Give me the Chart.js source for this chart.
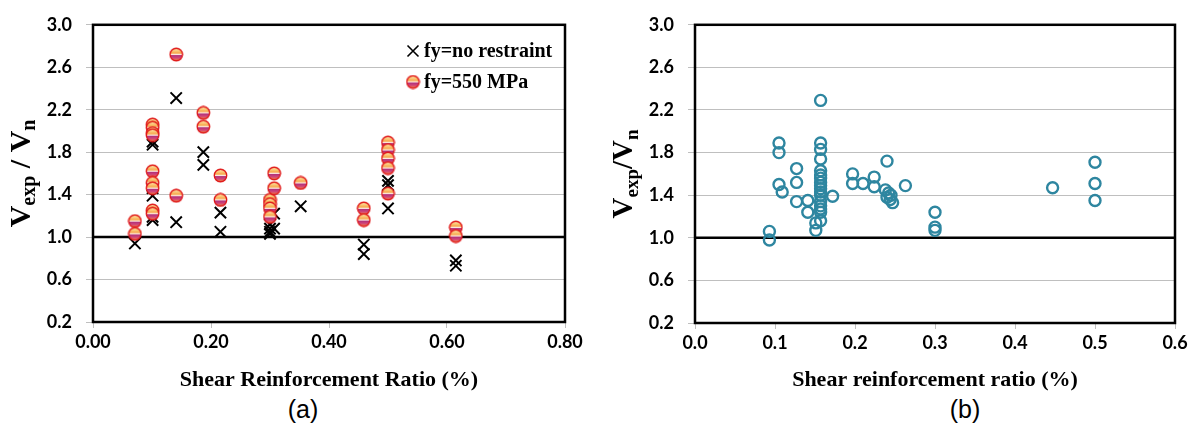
<!DOCTYPE html>
<html>
<head>
<meta charset="utf-8">
<script src="https://cdn.jsdelivr.net/npm/chart.js@4"></script>
<style>
  body { margin: 0; background: #fff; width: 1197px; height: 432px; position: relative; overflow: hidden; }
  canvas { position: absolute; top: 0; }
  #chartA { left: 0; }
  #chartB { left: 600px; }
  .tag { position: absolute; top: 395px; font-family: "Liberation Sans", Arial, sans-serif; font-size: 25px; transform: translateX(-50%); }
</style>
</head>
<body>
<canvas id="chartA" width="600" height="394"></canvas>
<canvas id="chartB" width="597" height="394"></canvas>
<div class="tag" style="left:303px">(a)</div>
<div class="tag" style="left:965px">(b)</div>
<script>
// panel (a) - fy = no restraint (crosses)
const noRestraintRatio = [0.071, 0.101, 0.101, 0.101, 0.101, 0.101, 0.101, 0.141, 0.141, 0.187, 0.187,
  0.216, 0.216, 0.300, 0.300, 0.300, 0.300, 0.307, 0.307, 0.352, 0.459, 0.459, 0.500, 0.500, 0.500, 0.615, 0.615];
const noRestraintV = [0.94, 1.90, 1.87, 1.46, 1.39, 1.19, 1.16, 2.31, 1.14, 1.80, 1.68,
  1.23, 1.05, 1.12, 1.08, 1.05, 1.03, 1.22, 1.08, 1.29, 0.93, 0.84, 1.53, 1.49, 1.27, 0.78, 0.73];

// panel (a) - fy = 550 MPa (balls)
const fy550Ratio = [0.071, 0.071, 0.101, 0.101, 0.101, 0.101, 0.101, 0.101, 0.101, 0.101, 0.101,
  0.141, 0.141, 0.187, 0.187, 0.216, 0.216, 0.300, 0.300, 0.300, 0.300, 0.307, 0.307, 0.352,
  0.459, 0.459, 0.500, 0.500, 0.500, 0.500, 0.500, 0.615, 0.615];
const fy550V = [1.15, 1.03, 2.06, 2.03, 1.98, 1.96, 1.62, 1.51, 1.46, 1.25, 1.22,
  2.72, 1.39, 2.17, 2.04, 1.58, 1.35, 1.35, 1.31, 1.27, 1.19, 1.60, 1.46, 1.51,
  1.27, 1.16, 1.89, 1.82, 1.74, 1.65, 1.41, 1.09, 1.01];

// panel (b)
const ratioB = [0.093, 0.093, 0.105, 0.105, 0.105, 0.109, 0.127, 0.127, 0.127, 0.141, 0.141, 0.151, 0.151,
  0.157, 0.157, 0.157, 0.157, 0.157, 0.157, 0.157, 0.157, 0.157, 0.157, 0.157, 0.157, 0.157, 0.157, 0.157, 0.157, 0.157,
  0.172, 0.197, 0.197, 0.210, 0.224, 0.224, 0.240, 0.238, 0.242, 0.245, 0.240, 0.244, 0.247,
  0.263, 0.300, 0.300, 0.300, 0.447, 0.500, 0.500, 0.500];
const vB = [1.06, 0.98, 1.89, 1.80, 1.50, 1.43, 1.65, 1.52, 1.34, 1.35, 1.24, 1.14, 1.07,
  2.29, 1.89, 1.83, 1.74, 1.63, 1.59, 1.56, 1.52, 1.49, 1.46, 1.43, 1.40, 1.34, 1.30, 1.27, 1.24, 1.16,
  1.39, 1.60, 1.51, 1.51, 1.57, 1.48, 1.72, 1.45, 1.42, 1.40, 1.38, 1.36, 1.33,
  1.49, 1.24, 1.10, 1.07, 1.47, 1.71, 1.51, 1.35];

const yTicks = [0.2, 0.6, 1.0, 1.4, 1.8, 2.2, 2.6, 3.0];
const xTicksA = [0, 0.2, 0.4, 0.6, 0.8];
const xTicksB = [0, 0.1, 0.2, 0.3, 0.4, 0.5, 0.6];
const refLevel = 1.0;

const pts = (xs, ys) => xs.map((x, i) => ({ x: x, y: ys[i] }));

// orange/red ball marker used by the fy=550 series
function makeBall() {
  const c = document.createElement('canvas');
  c.width = 15; c.height = 15;
  const g = c.getContext('2d');
  const grad = g.createLinearGradient(0, 1.5, 0, 13.5);
  grad.addColorStop(0, '#fff0b0');
  grad.addColorStop(0.38, '#f7a648');
  grad.addColorStop(0.5, '#fde9e2');
  grad.addColorStop(0.58, '#b3327a');
  grad.addColorStop(0.8, '#d4487a');
  grad.addColorStop(1, '#f28a38');
  g.beginPath();
  g.arc(7.5, 7.5, 6.2, 0, Math.PI * 2);
  g.fillStyle = grad;
  g.fill();
  g.lineWidth = 1.4;
  g.strokeStyle = '#e01818';
  g.stroke();
  return c;
}
const ball = makeBall();

const tickFont = { family: 'Lato', size: 18, weight: 'bold' };
const serif = '"Liberation Serif", "Times New Roman", serif';

const frame = {
  id: 'frame',
  afterDatasetsDraw(chart) {
    const a = chart.chartArea, c = chart.ctx;
    c.save();
    c.strokeStyle = '#000';
    c.lineWidth = 2.5;
    c.strokeRect(a.left, a.top, a.right - a.left, a.bottom - a.top);
    c.restore();
  }
};

// rotated y title with subscripts
function yTitle(parts, offset, big, small) {
  return {
    id: 'ytitle',
    afterDraw(chart) {
      const a = chart.chartArea, c = chart.ctx;
      c.save();
      c.translate(a.left - offset, (a.top + a.bottom) / 2);
      c.rotate(-Math.PI / 2);
      c.fillStyle = '#000';
      c.textBaseline = 'middle';
      const fontOf = p => 'bold ' + (p[1] ? small : big) + 'px ' + serif;
      let w = 0;
      parts.forEach(p => { c.font = fontOf(p); w += c.measureText(p[0]).width; });
      let x = -w / 2;
      parts.forEach(p => {
        c.font = fontOf(p);
        c.fillText(p[0], x, p[1] ? 8 : 0);
        x += c.measureText(p[0]).width;
      });
      c.restore();
    }
  };
}

const legendA = {
  id: 'legendA',
  afterDraw(chart) {
    const c = chart.ctx;
    c.save();
    c.strokeStyle = '#000';
    c.lineWidth = 1.6;
    const cx = 413, cy = 51;
    c.beginPath();
    c.moveTo(cx - 5.5, cy - 5.5); c.lineTo(cx + 5.5, cy + 5.5);
    c.moveTo(cx + 5.5, cy - 5.5); c.lineTo(cx - 5.5, cy + 5.5);
    c.stroke();
    c.drawImage(ball, 413 - 7.5, 82 - 7.5);
    c.fillStyle = '#000';
    c.font = 'bold 20px ' + serif;
    c.textBaseline = 'middle';
    c.fillText('fy=no restraint', 424, 52);
    c.fillText('fy=550 MPa', 424, 83);
    c.restore();
  }
};

function yScale(width) {
  return {
    type: 'linear', min: 0.2, max: 3.0,
    afterBuildTicks: s => { s.ticks = yTicks.map(v => ({ value: v })); },
    afterFit: s => { s.width = width; },
    ticks: { callback: v => v.toFixed(1), color: '#000', font: tickFont, padding: 14 },
    grid: { color: '#bfbfbf', lineWidth: 1, tickLength: 7 },
    border: { display: false }
  };
}

function xScale(max, ticks, digits, title, height) {
  return {
    type: 'linear', min: 0, max: max,
    afterBuildTicks: s => { s.ticks = ticks.map(v => ({ value: v })); },
    afterFit: s => { s.height = height; },
    ticks: { callback: v => v.toFixed(digits), color: '#000', font: tickFont, padding: 3, maxRotation: 0 },
    grid: { drawOnChartArea: false, color: '#bfbfbf', tickLength: 6 },
    border: { display: false },
    title: { display: true, text: title, color: '#000', font: { family: serif, size: 22, weight: 'bold' }, padding: { top: 10, bottom: 0 } }
  };
}

new Chart(document.getElementById('chartA'), {
  type: 'scatter',
  data: {
    datasets: [
      { label: 'fy=550 MPa', data: pts(fy550Ratio, fy550V), pointStyle: ball, pointRadius: 7 },
      { label: 'fy=no restraint', data: pts(noRestraintRatio, noRestraintV), pointStyle: 'crossRot',
        pointRadius: 8, borderColor: '#000', borderWidth: 2, backgroundColor: '#000' },
      { type: 'line', data: [{ x: 0, y: refLevel }, { x: 0.8, y: refLevel }], borderColor: '#000',
        borderWidth: 2.5, pointRadius: 0, showLine: true }
    ]
  },
  options: {
    responsive: false, animation: false,
    layout: { padding: { top: 22, right: 35, left: 0, bottom: 0 } },
    plugins: { legend: { display: false }, tooltip: { enabled: false } },
    scales: { x: xScale(0.8, xTicksA, 2, 'Shear Reinforcement Ratio (%)', 72), y: yScale(93) }
  },
  plugins: [frame, yTitle([['V', 0], ['exp', 1], [' / ', 0], ['V', 0], ['n', 1]], 71, 30, 20), legendA]
});

new Chart(document.getElementById('chartB'), {
  type: 'scatter',
  data: {
    datasets: [
      { data: pts(ratioB, vB), pointStyle: 'circle', pointRadius: 5.5, borderColor: '#2e86a0',
        borderWidth: 2.4, backgroundColor: 'rgba(0,0,0,0)' },
      { type: 'line', data: [{ x: 0, y: refLevel }, { x: 0.6, y: refLevel }], borderColor: '#000',
        borderWidth: 2.5, pointRadius: 0, showLine: true }
    ]
  },
  options: {
    responsive: false, animation: false,
    layout: { padding: { top: 14, right: 22, left: 0, bottom: 0 } },
    plugins: { legend: { display: false }, tooltip: { enabled: false } },
    scales: { x: xScale(0.6, xTicksB, 1, 'Shear reinforcement ratio (%)', 71), y: yScale(95) }
  },
  plugins: [frame, yTitle([['V', 0], ['exp', 1], ['/', 0], ['V', 0], ['n', 1]], 70, 29, 19)]
});
</script>
</body>
</html>
